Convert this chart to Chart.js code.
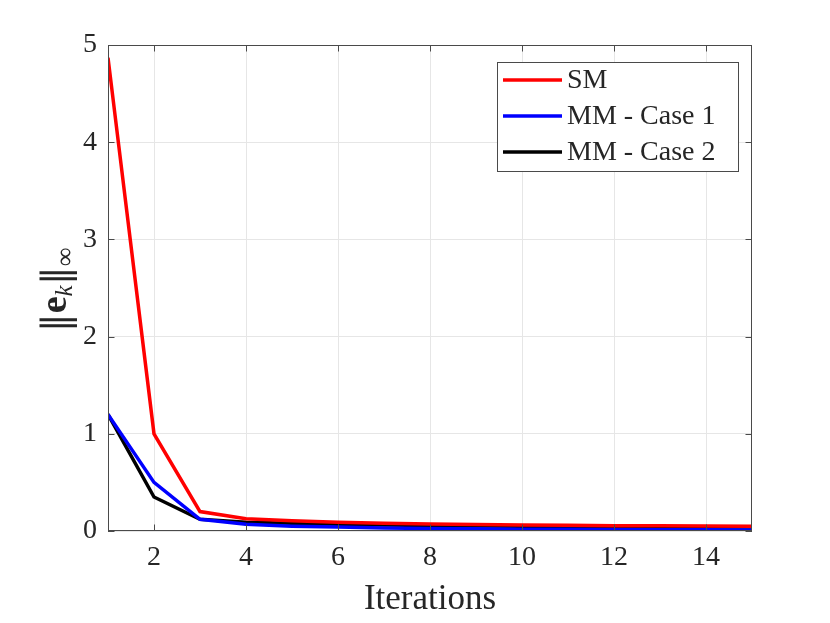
<!DOCTYPE html>
<html><head><meta charset="utf-8">
<script src="https://cdn.jsdelivr.net/npm/chart.js@4.4.0/dist/chart.umd.min.js"></script>
<style>html,body{margin:0;padding:0;background:#fff}#wrap{width:830px;height:623px}</style>
</head><body><div id="wrap"><canvas id="c" width="830" height="623"></canvas></div>
<script>
const iterations = [1,2,3,4,5,6,7,8,9,10,11,12,13,14,15];
const smValues  = [4.87,1.0,0.2,0.125,0.105,0.09,0.08,0.072,0.066,0.062,0.058,0.055,0.053,0.051,0.05];
const mm1Values = [1.2,0.5,0.12,0.07,0.05,0.04,0.032,0.026,0.022,0.019,0.017,0.015,0.013,0.012,0.011];
const mm2Values = [1.2,0.35,0.12,0.09,0.08,0.07,0.062,0.056,0.052,0.049,0.046,0.044,0.042,0.041,0.04];
const xTicks = [2,4,6,8,10,12,14];
const yTicks = [0,1,2,3,4,5];
const seriesLabels = ['SM','MM - Case 1','MM - Case 2'];
const seriesColors = ['#ff0000','#0000ff','#000000'];
const xTitle = 'Iterations';

const SERIF = '"Liberation Serif", "DejaVu Serif", serif';
const AX = '#262626';
const FRAME = '#4a4a4a';

function pts(vals){ return iterations.map((x,i)=>({x:x, y:vals[i]})); }
const allSeries = [smValues, mm1Values, mm2Values];

const framePlugin = {
  id:'frame',
  afterDraw(chart){
    const {ctx, chartArea:a, scales} = chart;
    ctx.save();
    ctx.strokeStyle = FRAME; ctx.lineWidth = 1;
    ctx.strokeRect(Math.round(a.left)+0.5, Math.round(a.top)+0.5, Math.round(a.right-a.left)-1, Math.round(a.bottom-a.top)-1);
    const tl = 6.5;
    ctx.beginPath();
    xTicks.forEach(v=>{
      const px = Math.round(scales.x.getPixelForValue(v))+0.5;
      ctx.moveTo(px, a.bottom); ctx.lineTo(px, a.bottom - tl);
      ctx.moveTo(px, a.top); ctx.lineTo(px, a.top + tl);
    });
    yTicks.forEach(v=>{
      const py = Math.round(scales.y.getPixelForValue(v))+0.5;
      ctx.moveTo(a.left, py); ctx.lineTo(a.left + tl, py);
      ctx.moveTo(a.right, py); ctx.lineTo(a.right - tl, py);
    });
    ctx.stroke();

    // legend
    const lx = 497, ly = 62, lw = 241, lh = 109;
    ctx.fillStyle = '#fff';
    ctx.fillRect(lx, ly, lw, lh);
    ctx.strokeStyle = FRAME; ctx.lineWidth = 1;
    ctx.strokeRect(lx+0.5, ly+0.5, lw, lh);
    const rows = [80, 116, 152];
    chart.data.datasets.forEach((ds,i)=>{
      ctx.strokeStyle = ds.borderColor; ctx.lineWidth = 3.5;
      ctx.beginPath(); ctx.moveTo(503, rows[i]); ctx.lineTo(562, rows[i]); ctx.stroke();
      ctx.fillStyle = AX; ctx.font = '28px ' + SERIF;
      ctx.textBaseline = 'middle'; ctx.textAlign = 'left';
      ctx.fillText(ds.label, 567, rows[i]+1);
    });

    // y title: ||e_k||_inf
    ctx.translate(66, 290);
    ctx.rotate(-Math.PI/2);
    ctx.fillStyle = AX;
    ctx.textBaseline = 'alphabetic'; ctx.textAlign = 'left';
    const parts = [
      {t:'\u2016', f:'38px "DejaVu Serif", serif', dy:2},
      {t:'e', f:'bold 38px '+SERIF, dy:0},
      {t:'k', f:'italic 25px '+SERIF, dy:6},
      {t:'\u2016', f:'38px "DejaVu Serif", serif', dy:2},
      {t:'\u221E', f:'26px '+SERIF, dy:7}
    ];
    let total = 0;
    parts.forEach(p=>{ ctx.font = p.f; p.w = ctx.measureText(p.t).width; total += p.w; });
    let cx = -total/2;
    parts.forEach(p=>{ ctx.font = p.f; ctx.fillText(p.t, cx, p.dy); cx += p.w; });
    ctx.restore();
  }
};

new Chart(document.getElementById('c'), {
  type:'line',
  data:{
    datasets: allSeries.map((vals,i)=>({
      label: seriesLabels[i], data: pts(vals),
      borderColor: seriesColors[i], backgroundColor: seriesColors[i],
      borderWidth: 3.5, pointRadius: 0, tension: 0, fill:false
    }))
  },
  options:{
    responsive:false, animation:false, devicePixelRatio:1,
    layout:{padding:{left:0, right:78, top:45, bottom:0}},
    plugins:{legend:{display:false}, tooltip:{enabled:false}},
    scales:{
      x:{
        type:'linear', min:1, max:15,
        afterBuildTicks: s => { s.ticks = xTicks.map(v=>({value:v})); },
        afterFit: s => { s.height = 92; },
        grid:{color:'#e6e6e6', drawTicks:false},
        border:{display:false},
        ticks:{font:{family:SERIF, size:28}, color:AX, padding:10, maxRotation:0, autoSkip:false},
        title:{display:true, text:xTitle, font:{family:SERIF, size:35}, color:AX, padding:{top:0, bottom:2}}
      },
      y:{
        type:'linear', min:0, max:5,
        afterBuildTicks: s => { s.ticks = yTicks.map(v=>({value:v})); },
        afterFit: s => { s.width = 108; },
        grid:{color:'#e6e6e6', drawTicks:false},
        border:{display:false},
        ticks:{font:{family:SERIF, size:28}, color:AX, padding:11}
      }
    }
  },
  plugins:[framePlugin]
});
</script></body></html>
